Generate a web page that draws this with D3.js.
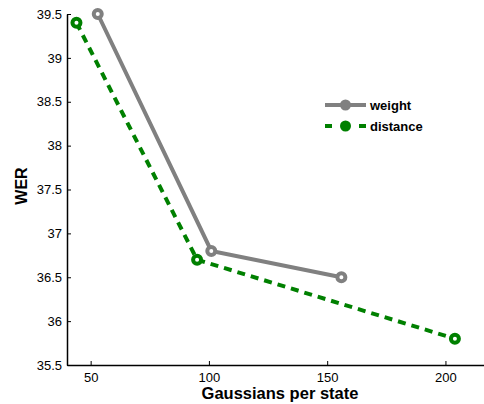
<!DOCTYPE html>
<html><head><meta charset="utf-8">
<script src="https://cdn.jsdelivr.net/npm/d3@7"></script>
<style>body{margin:0;background:#fff}svg{display:block}text{font-family:"Liberation Sans",Arial,sans-serif}</style>
</head><body><svg id="c" width="484" height="404"></svg>
<script>
const weightX = [53, 101, 156];
const weightY = [39.5, 36.8, 36.5];
const distanceX = [44, 95, 204];
const distanceY = [39.4, 36.7, 35.8];
const xTicks = [50, 100, 150, 200];
const yTicks = [35.5, 36, 36.5, 37, 37.5, 38, 38.5, 39, 39.5];
const seriesNames = ["weight", "distance"];

const svg = d3.select("#c");
const x = d3.scaleLinear().domain([40, 216.3]).range([67, 484]);
const y = d3.scaleLinear().domain([35.5, 39.5]).range([365, 14]);

const xAxis = svg.append("g").attr("transform","translate(0,365)")
  .call(d3.axisBottom(x).tickValues(xTicks).tickSize(-4).tickPadding(8).tickSizeOuter(0).tickFormat(d3.format("d")));
const yAxis = svg.append("g").attr("transform","translate(67,0)")
  .call(d3.axisLeft(y).tickValues(yTicks).tickSize(-4).tickPadding(5).tickSizeOuter(0).tickFormat(d=>String(d)));
[xAxis,yAxis].forEach(a=>{
  a.selectAll("text").attr("font-size",13).attr("fill","#000").style("font-family","Liberation Sans, Arial, sans-serif");
  a.select(".domain").attr("stroke","#000").attr("stroke-width",1.5);
  a.selectAll(".tick line").attr("stroke","#000");
});
xAxis.selectAll("text").attr("dy","0.71em");

const series = [
  {name: seriesNames[0], xs: weightX, ys: weightY, color: "#808080", dash: null},
  {name: seriesNames[1], xs: distanceX, ys: distanceY, color: "#008000", dash: "8,6"}
];
const line = d3.line().x(d=>x(d[0])).y(d=>y(d[1]));
series.forEach(s=>{
  const pts = s.xs.map((v,i)=>[v, s.ys[i]]);
  svg.append("path").attr("d", line(pts)).attr("fill","none").attr("stroke",s.color)
    .attr("stroke-width",4).attr("stroke-dasharray",s.dash);
  svg.selectAll(null).data(pts).enter().append("circle")
    .attr("cx",d=>x(d[0])).attr("cy",d=>y(d[1])).attr("r",4)
    .attr("fill","#fff").attr("stroke",s.color).attr("stroke-width",4);
});

// legend
series.forEach((s,i)=>{
  const ly = 105 + i*21;
  svg.append("line").attr("x1",325).attr("x2",366).attr("y1",ly).attr("y2",ly)
    .attr("stroke",s.color).attr("stroke-width",4).attr("stroke-dasharray", s.dash ? "7,10" : null);
  svg.append("circle").attr("cx",345.5).attr("cy",ly).attr("r",5.5).attr("fill",s.color);
  svg.append("text").attr("x",370).attr("y",ly+4.5).attr("font-size",13).attr("font-weight","bold").text(s.name);
});

svg.append("text").attr("x",280).attr("y",399).attr("text-anchor","middle")
  .attr("font-size",16.5).attr("font-weight","bold").text("Gaussians per state");
svg.append("text").attr("transform","translate(27,186) rotate(-90)").attr("text-anchor","middle")
  .attr("font-size",16).attr("font-weight","bold").text("WER");
</script></body></html>
